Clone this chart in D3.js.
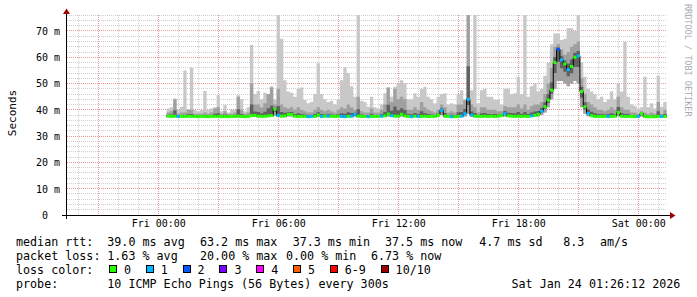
<!DOCTYPE html>
<html><head><meta charset="utf-8">
<script src="https://cdn.jsdelivr.net/npm/d3@7"></script>
<style>
html,body{margin:0;padding:0;background:#fff;}
svg{display:block;font-family:"DejaVu Sans Mono",monospace;}
</style></head><body>
<svg id="chart" width="697" height="297"></svg>
<script>
// ---------- DATA (10-minute slots, starting Fri 00:25) ----------
const medianRtt = [
 37.6,37.5,37.6,37.5,37.5,37.5,37.6,37.5,37.5,37.4,
 37.5,37.5,37.4,37.5,37.5,37.5,37.4,37.5,37.4,37.5,
 37.5,37.6,37.5,37.4,37.5,37.8,37.9,37.6,37.5,37.6,
 37.7,37.8,40.2,37.9,37.6,37.7,38.3,38.2,37.6,37.5,
 37.5,37.5,37.4,37.5,37.5,38.0,37.5,37.6,37.6,37.5,
 37.5,37.6,37.5,37.4,37.5,37.6,38.3,37.6,37.5,37.5,
 37.4,37.5,37.5,37.5,37.6,37.7,38.4,37.8,37.6,37.6,
 38.3,37.7,37.5,37.4,37.6,37.5,37.5,37.6,37.5,37.5,
 37.5,38.0,39.8,37.6,37.5,37.4,37.4,37.5,37.6,38.5,
 44.0,38.0,37.6,37.5,37.5,37.6,37.5,37.6,37.5,37.6,
 37.8,38.5,37.7,37.6,37.5,37.6,37.5,37.6,37.5,37.7,
 37.9,38.3,39.5,41.2,43.7,47.5,58.0,63.0,59.0,57.5,
 55.3,56.5,60.0,60.5,47.0,41.2,38.6,37.8,37.5,37.5,
 37.5,37.5,37.5,37.5,37.6,39.0,37.6,37.5,37.5,37.5,
 37.4,37.5,38.5,37.5,37.4,37.4,37.4,37.5,37.5,37.5
];
const pingMax = [
 40.5,41,44.3,40,41.2,55,40.3,56,40,39.5,
 40,47.2,40,40.5,41,45.6,39.5,41.8,39,40,
 40,45.6,44,39.5,41,64.7,46,47.2,44,46.5,
 46,49,44,80,67,51.3,47,46.5,45,48,
 48.5,43.7,42.5,43,46,57.7,46,44,43,43.5,
 42,44,51.3,56.2,54,49,45,80,43.5,43,
 41.2,45,41,40.5,42,46.3,48.5,45,48.8,50,
 51.3,50,44,44,46.3,45,48,48.8,45,44,
 42.5,45,46,46.3,42,42.5,42,46,47.5,44,
 80,47.5,80,42.5,47.5,48,45,45,43.7,43.7,
 42,48,48,46,46.3,52.6,46,80,45,49,
 50,47,48,53,58,65,69,69,66.6,67,
 71,71,70,80,58,52.6,48,47,46,44,
 45,43,44,47,44,50,47,65.9,45,42,
 41.5,40.5,41,52.6,41,42.5,40.5,53,41.2,43
];
const pingUpper = [
 39,39.5,44,38.5,39,39,40,40,38.5,38.5,
 38.5,39,38.5,39,40.5,41,38.5,39.5,38.5,38.5,
 39,45,40,38.5,39,50,42,42,41,42.5,
 46,48.5,42,48,42,41,40.5,41,40,41,
 40,39.5,39,39,40,41,40,39.5,40,39.5,
 39,40,41,40.5,42,41,40,45,39.5,39,
 39,40.5,39,39,40,42,48.5,43,48,44,
 45,44,40,40,41,40,43,41,40,39.5,
 39,40,42,41,39,39.5,39,42,42,43.7,
 80,42,41,39,41,41,40,40,40,39.5,
 39.5,41.5,41,41,41,42,40.5,42,40,41.5,
 42,42,43,46,50,56,64,65,63,61,
 62,64,65,66,52,46,43,42,41,40,
 40,39.5,40,41,40,45,41,40,40,39,
 39,38.5,39.5,39,38.5,39,38.5,43,38.5,40
];
const pingMin = [
 37.2,37.2,37.2,37.2,37.2,37.2,37.2,37.2,37.2,37.1,
 37.2,37.2,37.1,37.2,37.2,37.2,37.1,37.2,37.1,37.2,
 37.2,37.2,37.2,37.1,37.2,37.3,37.3,37.2,37.2,37.2,
 37.3,37.3,37.8,37.3,37.2,37.2,37.5,37.5,37.2,37.2,
 37.2,37.2,37.1,37.2,37.2,37.4,37.2,37.2,37.2,37.2,
 37.2,37.2,37.2,37.1,37.2,37.2,37.5,37.2,37.2,37.2,
 37.1,37.2,37.2,37.2,37.2,37.3,37.5,37.3,37.2,37.2,
 37.5,37.3,37.2,37.1,37.2,37.2,37.2,37.2,37.2,37.2,
 37.2,37.4,38.0,37.2,37.2,37.1,37.1,37.2,37.2,37.5,
 38.5,37.4,37.2,37.2,37.2,37.2,37.2,37.2,37.2,37.2,
 37.3,37.5,37.3,37.2,37.2,37.2,37.2,37.2,37.2,37.3,
 37.4,37.5,38.0,39.0,41.0,44.0,48.0,51.0,51.0,50.0,
 49.0,50.0,51.0,50.0,41.0,38.5,37.6,37.3,37.2,37.2,
 37.2,37.2,37.2,37.2,37.2,37.6,37.2,37.2,37.2,37.2,
 37.1,37.2,37.5,37.2,37.1,37.1,37.1,37.2,37.2,37.2
];
const lossCount = [
 0,0,0,1,0,0,0,0,0,0,
 0,0,0,0,0,0,0,0,0,0,
 0,0,0,0,0,0,0,0,0,0,
 0,0,0,1,0,0,0,0,0,0,
 0,0,1,1,0,0,1,0,1,0,
 0,0,1,1,0,1,1,0,0,0,
 1,0,0,0,1,0,0,1,0,0,
 0,0,0,1,0,1,0,0,0,0,
 0,0,1,0,0,1,0,0,1,1,
 1,1,0,0,0,0,0,0,0,0,
 0,1,0,0,0,0,0,0,0,1,
 0,0,1,0,0,0,0,2,1,0,
 1,0,0,1,0,0,1,0,0,0,
 0,0,1,0,0,0,0,0,0,0,
 0,1,0,0,0,0,0,0,1,0
];
const yTickValues = [0,10,20,30,40,50,60,70];
const lossLabels = ["0","1","2","3","4","5","6-9","10/10"];
const lossColors = ["#26ff00","#00b8ff","#0059ff","#7e00ff","#ff00ff","#ff5e00","#ff0000","#a10000"];
const legendMedian = ["median rtt:","39.0 ms avg","63.2 ms max","37.3 ms min","37.5 ms now","4.7 ms sd","8.3","am/s"];
const legendLoss = ["packet loss:","1.63 % avg","20.00 % max","0.00 % min","6.73 % now"];
const probeText = ["probe:","10 ICMP Echo Pings (56 Bytes) every 300s","Sat Jan 24 01:26:12 2026"];

// ---------- LAYOUT ----------
const tStart = Date.UTC(2026,0,22,19,26,12), tEnd = Date.UTC(2026,0,24,1,26,12);
const firstSlot = Date.UTC(2026,0,23,0,25,0), slotMs = 10*60000;
const yMax = 76.08;
const svg = d3.select("#chart");
const x = d3.scaleUtc().domain([tStart,tEnd]).range([67,667]);
const y = d3.scaleLinear().domain([0,yMax]).range([215,15]);

svg.append("rect").attr("width",697).attr("height",297).attr("fill","#fff");

// grid
const g = svg.append("g").attr("shape-rendering","crispEdges");
const px = v => Math.floor(v)+0.5;
y.ticks(38).filter(v=>v>0 && v%10!==0).forEach(v=>{
  g.append("line").attr("x1",67).attr("x2",667).attr("y1",px(y(v))).attr("y2",px(y(v)))
   .attr("stroke","#cfcfcf").attr("stroke-dasharray","1,1");
});
x.ticks(d3.utcHour.every(1)).filter(t=>t.getUTCHours()%3!==0).forEach(t=>{
  g.append("line").attr("x1",px(x(t))).attr("x2",px(x(t))).attr("y1",15).attr("y2",215)
   .attr("stroke","#cfcfcf").attr("stroke-dasharray","1,1");
});
yTickValues.filter(v=>v>0).forEach(v=>{
  g.append("line").attr("x1",67).attr("x2",667).attr("y1",px(y(v))).attr("y2",px(y(v)))
   .attr("stroke","#e79595").attr("stroke-dasharray","1,1");
});
x.ticks(d3.utcHour.every(3)).forEach(t=>{
  g.append("line").attr("x1",px(x(t))).attr("x2",px(x(t))).attr("y1",15).attr("y2",215)
   .attr("stroke","#e79595").attr("stroke-dasharray","1,1");
});

// data points
const pts = medianRtt.map((m,i)=>({t:new Date(firstSlot+i*slotMs), med:m, max:pingMax[i], up:pingUpper[i], min:pingMin[i], loss:lossCount[i]}));
const ptsEnd = pts.concat([Object.assign({}, pts[pts.length-1], {t:new Date(firstSlot+pts.length*slotMs)})]);

svg.append("clipPath").attr("id","clip").append("rect").attr("x",67).attr("y",15).attr("width",600).attr("height",200);
const dg = svg.append("g").attr("clip-path","url(#clip)");

const area = (lo,hi) => d3.area().curve(d3.curveStepAfter).x(d=>x(d.t)).y0(d=>y(lo(d))).y1(d=>y(hi(d)));
dg.append("path").datum(ptsEnd).attr("d",area(d=>d.min,d=>d.max)).attr("fill","#c8c8c8");
dg.append("path").datum(ptsEnd).attr("d",area(d=>d.min,d=>d.up)).attr("fill","#a0a0a0");
dg.append("path").datum(ptsEnd).attr("d",area(d=>d.med-(d.med-d.min)*0.4,d=>d.med+(d.up-d.med)*0.35)).attr("fill","#606060");

// median black line
dg.append("path").datum(ptsEnd)
  .attr("d",d3.line().curve(d3.curveStepAfter).x(d=>x(d.t)).y(d=>y(d.med)))
  .attr("fill","none").attr("stroke","#000").attr("stroke-width",1);

// loss-coloured median segments
const bin = l => l>=10 ? 7 : (l>=6 ? 6 : l);
dg.selectAll("line.med").data(pts).enter().append("line").attr("class","med")
  .attr("x1",d=>x(d.t)).attr("x2",d=>x(new Date(+d.t+slotMs)))
  .attr("y1",d=>y(d.med)).attr("y2",d=>y(d.med))
  .attr("stroke",d=>lossColors[bin(d.loss)]).attr("stroke-width",3);

// axes
const ax = svg.append("g").attr("shape-rendering","crispEdges");
ax.append("line").attr("x1",62).attr("x2",671).attr("y1",215.5).attr("y2",215.5).attr("stroke","#000");
ax.append("line").attr("x1",66.5).attr("x2",66.5).attr("y1",13).attr("y2",219).attr("stroke","#000");
svg.append("polygon").attr("points","66.5,8.5 63,14 70,14").attr("fill","#a00000");
svg.append("polygon").attr("points","675.5,215.5 670,212 670,219").attr("fill","#a00000");

const yAxis = d3.axisLeft(y).tickValues(yTickValues).tickSize(0).tickPadding(0)
  .tickFormat(v => v===0 ? "0\u00a0\u00a0" : v+" m");
const yg = svg.append("g").attr("transform","translate(60,0)").call(yAxis);
yg.select(".domain").remove();
yg.selectAll("text").attr("font-family","DejaVu Sans Mono").attr("font-size","10px").attr("fill","#000").attr("dy","0.34em");

const xAxis = d3.axisBottom(x).ticks(d3.utcHour.every(6)).tickSize(0).tickPadding(0)
  .tickFormat(d3.utcFormat("%a %H:%M"));
const xg = svg.append("g").attr("transform","translate(0,220)").call(xAxis);
xg.select(".domain").remove();
xg.selectAll("text").attr("font-family","DejaVu Sans Mono").attr("font-size","10px").attr("fill","#000").attr("dy","0.71em");

// titles
svg.append("text").attr("transform","translate(16,113) rotate(-90)").attr("text-anchor","middle")
  .attr("font-size","11px").attr("fill","#000").text("Seconds");
svg.append("text").attr("transform","translate(684.5,4) rotate(90)").attr("text-anchor","start")
  .attr("font-size","8.5px").attr("fill","#ababab").text("RRDTOOL / TOBI OETIKER");

// legend
const lf = "11.7px";
const put = (s,xx,yy) => svg.append("text").attr("x",xx).attr("y",yy).attr("font-size",lf).attr("fill","#000")
  .style("white-space","pre").text(s);
const medX = [16,107.3,200,292.7,385,479.3,563.3,600];
legendMedian.forEach((s,i)=>put(s,medX[i],245.5));
const lossX = [16,107.3,200,286,371];
legendLoss.forEach((s,i)=>put(s,lossX[i],259.5));
put("loss color:",16,273.5);
let bx = 109;
lossLabels.forEach((s,i)=>{
  svg.append("rect").attr("x",bx+0.5).attr("y",265.5).attr("width",7).attr("height",7)
    .attr("fill",lossColors[i]).attr("stroke","#000").attr("stroke-width",1).attr("shape-rendering","crispEdges");
  put(s,bx+15,273.5);
  bx += 15 + s.length*7 + 14.8;
});
put(probeText[0],16,287.5);
put(probeText[1],107.3,287.5);
put(probeText[2],511.5,287.5);
</script></body></html>
